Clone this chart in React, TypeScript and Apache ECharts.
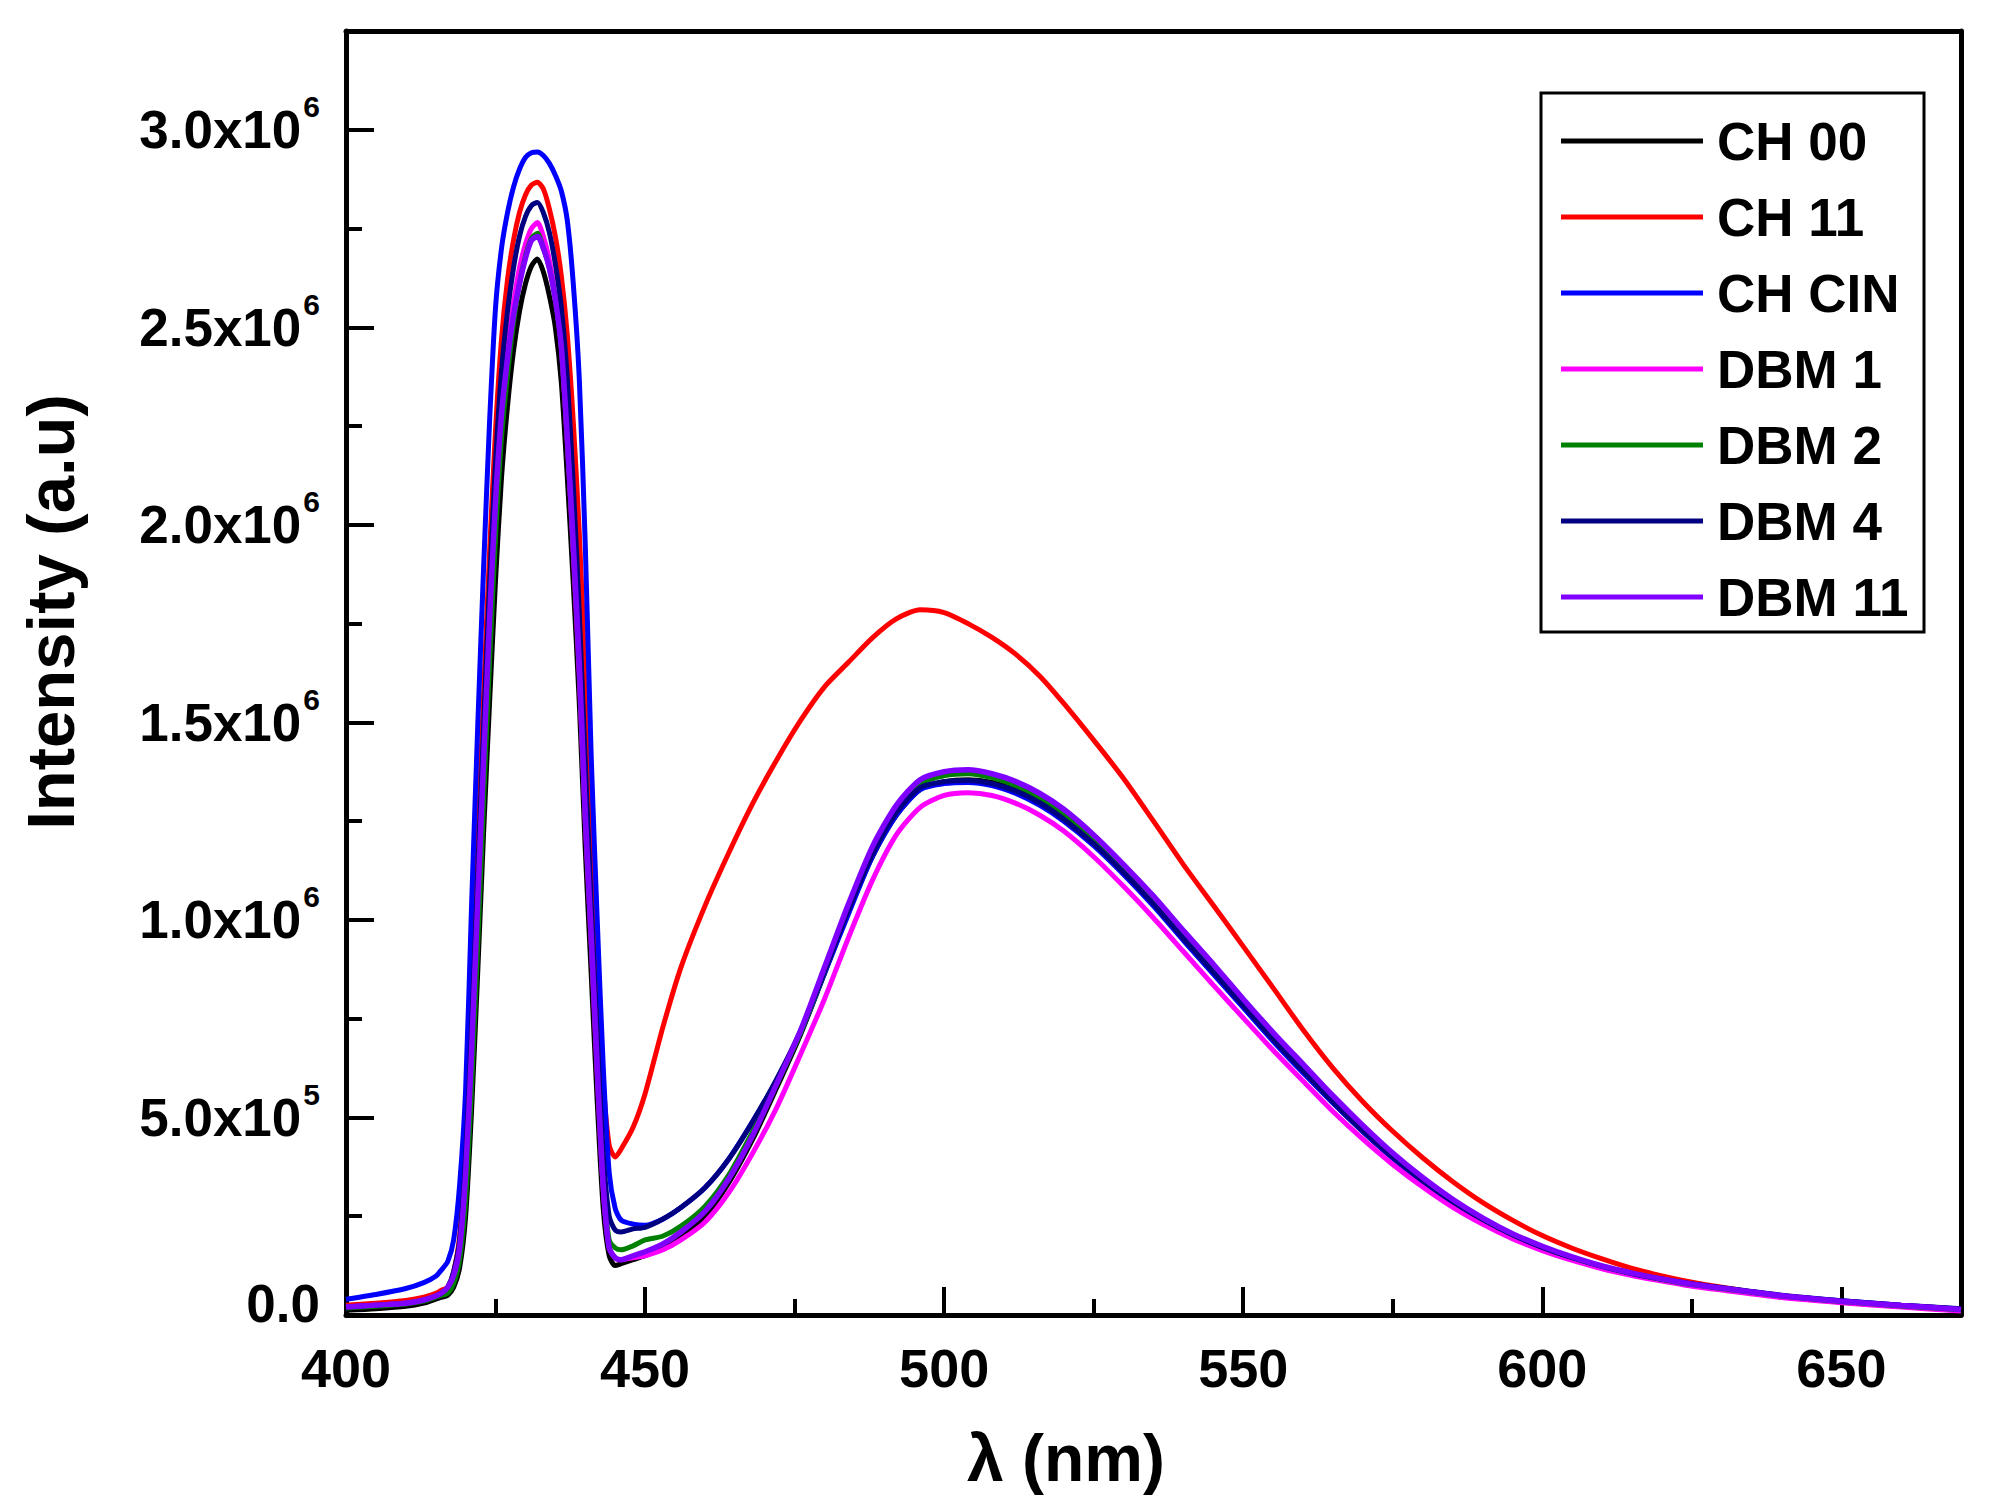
import React, { useEffect, useRef } from "react";
import * as echarts from "echarts";

const FONT = "'Liberation Sans', Arial, Helvetica, sans-serif";
const SCALE = 1e6; // series values below are in units of 10^6

const wavelengths = [
  400, 405, 410, 413, 415, 416,
  417, 418, 419, 420, 421, 422, 423, 424, 425, 426, 427, 428, 429, 430, 431, 432, 433, 434, 435, 436, 437, 438, 439, 440, 441, 442, 443, 444, 445, 446,
  448, 450, 453, 456,
  460, 464, 468, 472, 476, 480, 484, 488, 492, 496, 500, 504, 508, 512, 516, 520,
  525, 530, 535, 540, 545, 550, 555, 560, 565, 570, 575, 580, 585, 590, 595, 600, 605, 610, 615, 620, 625, 630,
  640, 650, 660, 670,
];

const ch00 = [
  0.012, 0.016, 0.022, 0.03, 0.04, 0.045,
  0.05, 0.07, 0.12, 0.25, 0.52, 0.86, 1.22, 1.55, 1.86, 2.12, 2.3, 2.44, 2.54, 2.61, 2.655, 2.673, 2.64, 2.58, 2.5, 2.36, 2.12, 1.85, 1.55, 1.18, 0.86, 0.54, 0.27, 0.15, 0.125, 0.13,
  0.14, 0.15, 0.168, 0.197,
  0.25, 0.335, 0.445, 0.575, 0.71, 0.865, 1.02, 1.16, 1.265, 1.33, 1.35, 1.355, 1.348, 1.328, 1.298, 1.257,
  1.193, 1.118, 1.038, 0.95, 0.865, 0.78, 0.695, 0.615, 0.537, 0.464, 0.397, 0.337, 0.284, 0.239, 0.2, 0.169, 0.143, 0.121, 0.103, 0.089, 0.076, 0.066,
  0.047, 0.033, 0.022, 0.012,
];

const ch11 = [
  0.025, 0.03, 0.037, 0.045, 0.055, 0.063,
  0.07, 0.11, 0.2, 0.43, 0.78, 1.18, 1.57, 1.93, 2.24, 2.47, 2.62, 2.72, 2.79, 2.835, 2.86, 2.867, 2.85, 2.8, 2.73, 2.63, 2.48, 2.26, 1.98, 1.62, 1.22, 0.88, 0.59, 0.43, 0.4, 0.42,
  0.475, 0.56, 0.73, 0.88,
  1.035, 1.17, 1.295, 1.405, 1.505, 1.59, 1.652, 1.714, 1.762, 1.785, 1.778, 1.75, 1.715, 1.672, 1.617, 1.548,
  1.455, 1.358, 1.25, 1.14, 1.037, 0.933, 0.828, 0.722, 0.625, 0.54, 0.465, 0.398, 0.338, 0.285, 0.24, 0.201, 0.169, 0.142, 0.118, 0.099, 0.083, 0.07,
  0.048, 0.033, 0.022, 0.013,
];

const chCin = [
  0.04, 0.052, 0.067, 0.082, 0.098, 0.115,
  0.135, 0.19, 0.33, 0.57, 1.04, 1.48, 1.89, 2.26, 2.55, 2.7, 2.79, 2.855, 2.9, 2.93, 2.942, 2.944, 2.935, 2.915, 2.885, 2.845, 2.77, 2.61, 2.37, 1.95, 1.41, 1.0, 0.63, 0.36, 0.27, 0.24,
  0.23, 0.227, 0.243, 0.272,
  0.322, 0.395, 0.49, 0.595, 0.715, 0.865, 1.015, 1.16, 1.265, 1.33, 1.345, 1.348, 1.34, 1.32, 1.29, 1.25,
  1.188, 1.115, 1.035, 0.948, 0.863, 0.778, 0.693, 0.613, 0.537, 0.465, 0.398, 0.338, 0.285, 0.24, 0.201, 0.17, 0.144, 0.122, 0.104, 0.09, 0.078, 0.068,
  0.049, 0.036, 0.025, 0.015,
];

const dbm1 = [
  0.02, 0.025, 0.03, 0.038, 0.048, 0.055,
  0.06, 0.09, 0.16, 0.34, 0.65, 1.02, 1.39, 1.75, 2.06, 2.29, 2.44, 2.56, 2.65, 2.71, 2.75, 2.765, 2.73, 2.67, 2.58, 2.45, 2.21, 1.93, 1.62, 1.25, 0.94, 0.61, 0.32, 0.17, 0.145, 0.14,
  0.145, 0.15, 0.165, 0.19,
  0.235, 0.31, 0.41, 0.525, 0.66, 0.8, 0.955, 1.1, 1.215, 1.285, 1.315, 1.322, 1.315, 1.295, 1.265, 1.225,
  1.16, 1.085, 1.005, 0.92, 0.835, 0.752, 0.67, 0.592, 0.515, 0.445, 0.381, 0.324, 0.273, 0.23, 0.193, 0.163, 0.138, 0.117, 0.1, 0.086, 0.073, 0.063,
  0.044, 0.031, 0.02, 0.01,
];

const dbm2 = [
  0.018, 0.022, 0.028, 0.035, 0.045, 0.05,
  0.055, 0.08, 0.14, 0.29, 0.58, 0.93, 1.3, 1.65, 1.97, 2.22, 2.38, 2.51, 2.61, 2.68, 2.725, 2.738, 2.7, 2.65, 2.57, 2.45, 2.22, 1.95, 1.65, 1.27, 0.96, 0.63, 0.34, 0.19, 0.17, 0.165,
  0.175, 0.19, 0.2, 0.225,
  0.275, 0.355, 0.465, 0.585, 0.715, 0.87, 1.03, 1.175, 1.28, 1.345, 1.365, 1.37, 1.36, 1.34, 1.31, 1.27,
  1.205, 1.13, 1.05, 0.963, 0.878, 0.79, 0.705, 0.625, 0.545, 0.472, 0.404, 0.343, 0.289, 0.243, 0.204, 0.172, 0.145, 0.123, 0.105, 0.09, 0.077, 0.067,
  0.048, 0.034, 0.023, 0.013,
];

const dbm4 = [
  0.02, 0.025, 0.03, 0.038, 0.048, 0.056,
  0.07, 0.11, 0.19, 0.4, 0.73, 1.11, 1.49, 1.85, 2.16, 2.39, 2.54, 2.65, 2.73, 2.78, 2.808, 2.816, 2.79, 2.74, 2.66, 2.55, 2.37, 2.1, 1.78, 1.4, 1.04, 0.71, 0.41, 0.25, 0.215, 0.21,
  0.218, 0.222, 0.243, 0.272,
  0.322, 0.395, 0.49, 0.597, 0.72, 0.87, 1.025, 1.166, 1.272, 1.335, 1.35, 1.353, 1.345, 1.326, 1.296, 1.255,
  1.193, 1.12, 1.04, 0.953, 0.868, 0.783, 0.698, 0.618, 0.54, 0.467, 0.4, 0.34, 0.287, 0.242, 0.203, 0.171, 0.145, 0.123, 0.105, 0.091, 0.079, 0.069,
  0.05, 0.036, 0.025, 0.016,
];

const dbm11 = [
  0.02, 0.025, 0.03, 0.038, 0.048, 0.056,
  0.07, 0.1, 0.17, 0.36, 0.67, 1.04, 1.4, 1.76, 2.06, 2.28, 2.42, 2.53, 2.61, 2.675, 2.72, 2.73, 2.7, 2.65, 2.57, 2.45, 2.22, 1.95, 1.65, 1.27, 0.96, 0.63, 0.33, 0.17, 0.145, 0.14,
  0.15, 0.16, 0.18, 0.21,
  0.262, 0.345, 0.455, 0.585, 0.72, 0.88, 1.04, 1.185, 1.29, 1.355, 1.375, 1.38, 1.37, 1.35, 1.32, 1.28,
  1.215, 1.14, 1.06, 0.973, 0.888, 0.8, 0.715, 0.635, 0.555, 0.48, 0.41, 0.348, 0.293, 0.246, 0.206, 0.174, 0.147, 0.124, 0.106, 0.091, 0.078, 0.068,
  0.049, 0.035, 0.024, 0.014,
];

const seriesNames = ["CH 00", "CH 11", "CH CIN", "DBM 1", "DBM 2", "DBM 4", "DBM 11"];
const seriesColors = ["#000000", "#ff0000", "#0000ff", "#ff00ff", "#008000", "#000080", "#8000ff"];
const seriesValues = [ch00, ch11, chCin, dbm1, dbm2, dbm4, dbm11];

const xTickValues = [400, 450, 500, 550, 600, 650];
const yTickValues = [0, 500000, 1000000, 1500000, 2000000, 2500000, 3000000];
const yTickMantissas = ["0.0", "5.0x10", "1.0x10", "1.5x10", "2.0x10", "2.5x10", "3.0x10"];
const yTickExponents = ["", "5", "6", "6", "6", "6", "6"];

const xTitle = "λ (nm)";
const yTitle = "Intensity (a.u)";

export default function App() {
  const ref = useRef<HTMLDivElement>(null);

  useEffect(() => {
    if (!ref.current) return;
    const chart = echarts.init(ref.current, undefined, { renderer: "svg" });

    const axisLineStyle = { color: "#000", width: 5 };
    const baseX = { type: "value", min: 400, max: 670, splitLine: { show: false } };
    const baseY = { type: "value", min: 0, max: 3250000, splitLine: { show: false } };

    const option: any = {
      animation: false,
      backgroundColor: "#fff",
      grid: { left: 346, right: 34, top: 31, bottom: 195, containLabel: false },
      xAxis: [
        {
          ...baseX,
          position: "bottom",
          interval: 50,
          axisLine: { show: true, onZero: false, lineStyle: axisLineStyle },
          axisTick: { show: true, inside: true, length: 28, lineStyle: { color: "#000", width: 4 } },
          axisLabel: {
            show: true,
            margin: 26,
            color: "#000",
            fontSize: 54,
            fontWeight: "bold",
            fontFamily: FONT,
            formatter: (v: number) => (xTickValues.indexOf(v) >= 0 ? String(v) : ""),
          },
        },
        {
          ...baseX,
          position: "bottom",
          interval: 25,
          axisLine: { show: false, onZero: false },
          axisTick: { show: true, inside: true, length: 16, lineStyle: { color: "#000", width: 4 } },
          axisLabel: { show: false },
        },
        {
          ...baseX,
          position: "top",
          axisLine: { show: true, onZero: false, lineStyle: axisLineStyle },
          axisTick: { show: false },
          axisLabel: { show: false },
        },
      ],
      yAxis: [
        {
          ...baseY,
          position: "left",
          interval: 500000,
          axisLine: { show: true, onZero: false, lineStyle: axisLineStyle },
          axisTick: { show: true, inside: true, length: 28, lineStyle: { color: "#000", width: 4 } },
          axisLabel: {
            show: true,
            margin: 26,
            color: "#000",
            fontFamily: FONT,
            fontWeight: "bold",
            fontSize: 53,
            formatter: (v: number) => {
              const i = yTickValues.indexOf(v);
              if (i < 0) return "";
              if (!yTickExponents[i]) return `{z|${yTickMantissas[i]}}`;
              return `{m|${yTickMantissas[i]}}{e|${yTickExponents[i]}}`;
            },
            rich: {
              m: { fontSize: 53, fontWeight: "bold", fontFamily: FONT, color: "#000" },
              z: { fontSize: 53, fontWeight: "bold", fontFamily: FONT, color: "#000", padding: [0, 0, 24, 0] },
              e: { fontSize: 30, fontWeight: "bold", fontFamily: FONT, color: "#000", padding: [0, 0, 46, 2] },
            },
          },
        },
        {
          ...baseY,
          position: "left",
          interval: 250000,
          axisLine: { show: false, onZero: false },
          axisTick: { show: true, inside: true, length: 16, lineStyle: { color: "#000", width: 4 } },
          axisLabel: { show: false },
        },
        {
          ...baseY,
          position: "right",
          axisLine: { show: true, onZero: false, lineStyle: axisLineStyle },
          axisTick: { show: false },
          axisLabel: { show: false },
        },
      ],
      legend: {
        orient: "vertical",
        left: 1561,
        top: 113,
        padding: 0,
        icon: "rect",
        itemWidth: 142,
        itemHeight: 5,
        itemGap: 20,
        data: seriesNames,
        textStyle: {
          fontSize: 53,
          fontWeight: "bold",
          fontFamily: FONT,
          color: "#000",
          lineHeight: 56,
          padding: [0, 0, 0, 9],
        },
      },
      graphic: [
        {
          type: "rect",
          shape: { x: 1541, y: 93, width: 383, height: 539 },
          style: { fill: "rgba(0,0,0,0)", stroke: "#000", lineWidth: 3 },
          z: 10,
        },
        {
          type: "text",
          x: 1066,
          y: 1458,
          style: {
            text: xTitle,
            fill: "#000",
            fontSize: 66,
            fontWeight: "bold",
            fontFamily: FONT,
            textAlign: "center",
            textVerticalAlign: "middle",
          },
        },
        {
          type: "text",
          x: 50,
          y: 612,
          rotation: Math.PI / 2,
          style: {
            text: yTitle,
            fill: "#000",
            fontSize: 67,
            fontWeight: "bold",
            fontFamily: FONT,
            textAlign: "center",
            textVerticalAlign: "middle",
          },
        },
      ],
      series: seriesNames.map((name, k) => ({
        name,
        type: "line",
        xAxisIndex: 0,
        yAxisIndex: 0,
        symbol: "none",
        smooth: 0.25,
        clip: true,
        color: seriesColors[k],
        lineStyle: { color: seriesColors[k], width: k === 6 ? 5.5 : 5 },
        itemStyle: { color: seriesColors[k] },
        data: wavelengths.map((w, i) => [w, seriesValues[k][i] * SCALE]),
      })),
    };

    chart.setOption(option);
    return () => chart.dispose();
  }, []);

  return (
    <div
      ref={ref}
      style={{ position: "absolute", left: 0, top: 0, width: 1995, height: 1510, background: "#fff" }}
    />
  );
}
